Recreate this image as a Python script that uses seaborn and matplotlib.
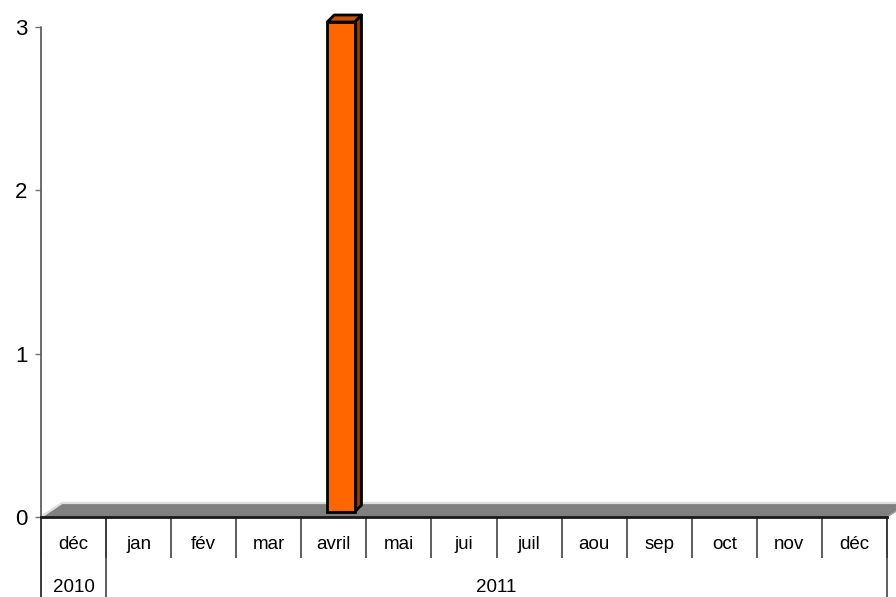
import matplotlib
matplotlib.use("Agg")
import matplotlib.pyplot as plt
import pandas as pd
import seaborn as sns
from matplotlib.patches import Polygon
from matplotlib.lines import Line2D
from matplotlib.transforms import ScaledTranslation, blended_transform_factory

# Monthly counts, déc 2010 through déc 2011
months = ["déc", "jan", "fév", "mar", "avril", "mai", "jui", "juil", "aou",
          "sep", "oct", "nov", "déc"]
counts = [0, 0, 0, 0, 3, 0, 0, 0, 0, 0, 0, 0, 0]
years = ["2010", "2011"]
year_first = [0, 1]
year_last = [0, 12]
y_ticks = [0, 1, 2, 3]

sns.set_theme(style="white")
plt.rcParams["font.family"] = ["Liberation Sans", "DejaVu Sans"]

DPI = 100
W, H = 896, 597
fig = plt.figure(figsize=(W / DPI, H / DPI), dpi=DPI)
ax = fig.add_axes([41 / W, 80 / H, 846 / W, 490 / H])

df = pd.DataFrame({"pos": list(range(len(months))), "count": counts})
sns.barplot(data=df, x="pos", y="count", ax=ax, color="#FF6600",
            saturation=1, width=0.42, edgecolor="black", linewidth=2,
            zorder=5)

ax.set_xlim(-0.5, len(months) - 0.5)
ax.set_ylim(0, 3)
ax.set_xlabel("")
ax.set_ylabel("")

# pixel -> data unit conversion (axes geometry is fixed)
px_x = (ax.transData.transform((1, 0)) - ax.transData.transform((0, 0)))[0]
px_y = (ax.transData.transform((0, 1)) - ax.transData.transform((0, 0)))[1]

def dx(p):
    return p / px_x

def dy(p):
    return p / px_y

# perspective floor under the bars
floor_dx, floor_dy = dx(21), dy(14)
x_lo, x_hi = -0.5, len(months) - 0.5
floor = Polygon([(x_lo, 0), (x_lo + floor_dx, floor_dy),
                 (x_hi + floor_dx, floor_dy), (x_hi, 0)],
                closed=True, facecolor="#808080", edgecolor="none",
                clip_on=False, zorder=1)
ax.add_patch(floor)
ax.add_line(Line2D([x_lo, x_lo + floor_dx, x_hi + floor_dx],
                   [0, floor_dy, floor_dy], color="#dedede", lw=1.6,
                   clip_on=False, zorder=2))
ax.add_line(Line2D([x_hi, x_hi + floor_dx], [0, floor_dy], color="#9a9a9a",
                   lw=1.2, clip_on=False, zorder=2))

# 3D look for the bars: shift the front face back, add top and side faces
shift = ScaledTranslation(7 / DPI, 5 / DPI, fig.dpi_scale_trans)
bx, by = dx(7), dy(5)
depth_x, depth_y = dx(7), dy(7)
for patch in ax.patches:
    if not hasattr(patch, "get_height"):
        continue
    h = patch.get_height()
    if h <= 0:
        patch.set_visible(False)
        continue
    patch.set_transform(ax.transData + shift)
    patch.set_clip_on(False)
    x0 = patch.get_x() + bx
    x1 = x0 + patch.get_width()
    y0 = patch.get_y() + by
    y1 = y0 + h
    side = Polygon([(x1, y0), (x1 + depth_x, y0 + depth_y),
                    (x1 + depth_x, y1 + depth_y), (x1, y1)], closed=True,
                   facecolor="#993300", edgecolor="black", lw=2,
                   joinstyle="round", clip_on=False, zorder=4)
    top = Polygon([(x0, y1), (x0 + depth_x, y1 + depth_y),
                   (x1 + depth_x, y1 + depth_y), (x1, y1)], closed=True,
                  facecolor="#CC5200", edgecolor="black", lw=2,
                  joinstyle="round", clip_on=False, zorder=4)
    ax.add_patch(side)
    ax.add_patch(top)

# axes styling
for s in ("top", "right", "left"):
    ax.spines[s].set_visible(False)
ax.spines["bottom"].set_color("#1a1a1a")
ax.spines["bottom"].set_linewidth(2)
ax.spines["bottom"].set_zorder(3)

ax.set_yticks(y_ticks)
ax.set_yticklabels([str(t) for t in y_ticks])
ax.tick_params(axis="y", which="major", length=4.3, width=1,
               color="#707070", direction="out", pad=5.5, labelsize=16,
               labelcolor="black", left=True)

# month labels as x ticks, category boundaries as minor ticks
ax.set_xticks(range(len(months)))
ax.set_xticklabels(months)
ax.set_xticks([i - 0.5 for i in range(len(months) + 1)], minor=True)
ax.tick_params(axis="x", which="major", length=0, pad=20, labelsize=13.5,
               labelcolor="black", bottom=True)
ax.tick_params(axis="x", which="minor", length=41 * 72 / DPI, width=1.1,
               color="#333333", direction="out", bottom=True)
for lab in ax.get_xticklabels():
    lab.set_verticalalignment("center")

trans = blended_transform_factory(ax.transData, ax.transAxes)
ax_h = 490.0
bottom_ax = -82 / ax_h

# vertical axis line running down through the label rows
ax.add_line(Line2D([x_lo, x_lo], [1.0, bottom_ax], transform=trans,
                   color="#606060", lw=1.3, clip_on=False, zorder=3))
# full-height separators around the year groups
for b in sorted(set([f - 0.5 for f in year_first] + [l + 0.5 for l in year_last])):
    ax.add_line(Line2D([b, b], [0, bottom_ax], transform=trans,
                       color="#333333", lw=1.1, clip_on=False, zorder=3))

# year labels
for name, f, l in zip(years, year_first, year_last):
    ax.text((f + l) / 2, -70 / ax_h, name, transform=trans, ha="center",
            va="center", fontsize=13.5, color="black", clip_on=False)

fig.savefig("out.png", dpi=DPI, facecolor="white")
